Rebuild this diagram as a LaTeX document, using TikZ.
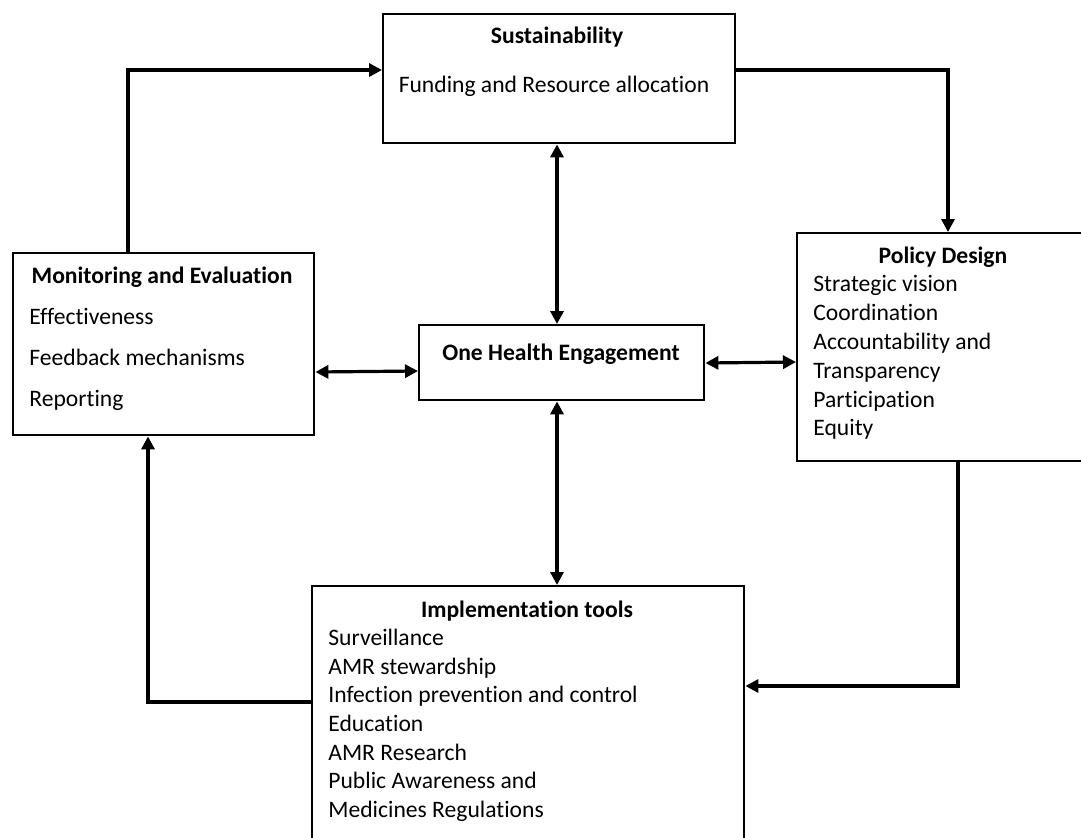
\documentclass[tikz,border=0pt]{standalone}
\usepackage{fontspec}
\setmainfont{Carlito}[Ligatures=NoCommon]
\usetikzlibrary{arrows.meta,positioning}

\tikzset{
  panel/.style={draw,line width=1.2pt,anchor=north west,inner sep=0pt},
  head/.style={font=\fontsize{11.8}{14}\selectfont\bfseries,inner sep=0pt,anchor=base},
  item/.style={font=\fontsize{11.8}{14}\selectfont,inner sep=0pt,anchor=base west},
  link/.style={line width=1.6pt,-{Triangle[length=6.5pt,width=6.5pt]}},
  dlink/.style={line width=1.6pt,{Triangle[length=6.5pt,width=6.5pt]}-{Triangle[length=6.5pt,width=6.5pt]}}
}

\begin{document}
\begin{tikzpicture}[x=0.5pt,y=-0.5pt]
  \fill[white] (0,0) rectangle (1081,837);
  \useasboundingbox (0,0) rectangle (1081,837);

  % boxes
  \node[panel,minimum width=176pt,minimum height=64.5pt] (sust) at (382,13) {};
  \node[panel,minimum width=150.5pt,minimum height=91pt] (mon) at (12,252) {};
  \node[panel,minimum width=142.5pt,minimum height=37.5pt] (health) at (418,324) {};
  \node[panel,minimum width=154pt,minimum height=114pt] (policy) at (796,232) {};
  \node[panel,minimum width=216pt,minimum height=140pt] (tools) at (311,585) {};

  % texts
  \node[head] (sustT) at (557,43) {Sustainability};
  \node[item,anchor=base] (sustI) at (554,92) {Funding and Resource allocation};
  \node[head] (monT) at (162,283) {Monitoring and Evaluation};
  \foreach \t [count=\i] in {Effectiveness,Feedback mechanisms,Reporting}
    \node[item] (mon\i) at (29,{283+41*\i}) {\t};
  \node[head] (healthT) at (561,360) {One Health Engagement};
  \node[head] (policyT) at (943,263) {Policy Design};
  \foreach \t [count=\i] in {Strategic vision,Coordination,Accountability and,Transparency,Participation,Equity}
    \node[item] (policy\i) at (813,{263+28.8*\i}) {\t};
  \node[head] (toolsT) at (527,617) {Implementation tools};
  \foreach \t [count=\i] in {Surveillance,AMR stewardship,Infection prevention and control,Education,AMR Research,Public Awareness and,Medicines Regulations}
    \node[item] (tools\i) at (328,{617+28.6*\i}) {\t};

  % outer loop
  \draw[link] (mon.north -| 128,0) |- (sust.west |- 0,70);
  \draw[link] (sust.east |- 0,70) -| (policy.north -| 948,0);
  \draw[link] (policy.south -| 958,0) |- (tools.east |- 0,686);
  \draw[link] (tools.west |- 0,702) -| (mon.south -| 148,0);

  % links to the centre
  \draw[dlink] (sust.south -| 557,0) -- (health.north -| 557,0);
  \draw[dlink] (health.south -| 557,0) -- (tools.north -| 557,0);
  \draw[dlink] (mon.east |- 0,372) -- (health.west |- 0,371);
  \draw[dlink] (health.east |- 0,363) -- (policy.west |- 0,362);
\end{tikzpicture}
\end{document}
